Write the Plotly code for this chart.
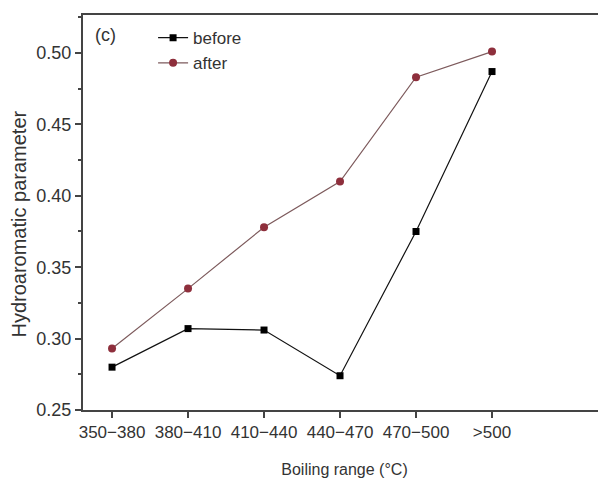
import plotly.graph_objects as go

categories = ["350\u2212380", "380\u2212410", "410\u2212440", "440\u2212470", "470\u2212500", ">500"]
before = [0.280, 0.307, 0.306, 0.274, 0.375, 0.487]
after = [0.293, 0.335, 0.378, 0.410, 0.483, 0.501]

font_family = "Liberation Sans, Arial, sans-serif"

fig = go.Figure()
fig.add_trace(go.Scatter(
    x=categories, y=before, name="before", mode="lines+markers",
    line=dict(color="#111111", width=1.2),
    marker=dict(symbol="square", size=7, color="#000000"),
))
fig.add_trace(go.Scatter(
    x=categories, y=after, name="after", mode="lines+markers",
    line=dict(color="#7d5a5c", width=1.2),
    marker=dict(symbol="circle", size=8, color="#8e2f3c"),
))

fig.update_layout(
    width=606, height=480,
    margin=dict(l=75, r=8, t=7, b=78),
    paper_bgcolor="white", plot_bgcolor="white",
    font=dict(family=font_family, color="#333333"),
    showlegend=True,
    legend=dict(
        x=0.134, y=0.987, xanchor="left", yanchor="top",
        bgcolor="rgba(0,0,0,0)", borderwidth=0,
        font=dict(size=17, color="#333333"),
        tracegroupgap=0,
    ),
    xaxis=dict(
        type="category",
        range=[-0.382, 6.5],
        automargin=False,
        showgrid=False, zeroline=False,
        showline=True, linecolor="#444444", linewidth=2, mirror=True,
        ticks="outside", ticklen=6, tickwidth=1.5, tickcolor="#444444",
        tickfont=dict(size=17, color="#333333"),
        title=dict(text="Boiling range (\u00b0C)", font=dict(size=16, color="#333333"), standoff=22),
    ),
    yaxis=dict(
        range=[0.25, 0.5266],
        automargin=False,
        tick0=0.25, dtick=0.05, tickformat=".2f",
        showgrid=False, zeroline=False,
        showline=True, linecolor="#444444", linewidth=2, mirror=False,
        ticks="outside", ticklen=6, tickwidth=1.5, tickcolor="#444444",
        tickfont=dict(size=18, color="#333333"),
        minor=dict(dtick=0.025, tick0=0.25, ticks="outside", ticklen=3, tickcolor="#444444", tickwidth=1.5),
    ),
    annotations=[
        dict(
            text="(c)", xref="paper", yref="paper", x=0.019, y=0.98,
            xanchor="left", yanchor="top", showarrow=False,
            font=dict(size=18, color="#333333"),
        ),
        dict(
            text="Hydroaromatic parameter", xref="paper", yref="paper",
            x=-0.122, y=0.47, xanchor="center", yanchor="middle",
            textangle=-90, showarrow=False,
            font=dict(size=20, color="#333333"),
        ),
    ],
)

fig.write_html("out.html")
